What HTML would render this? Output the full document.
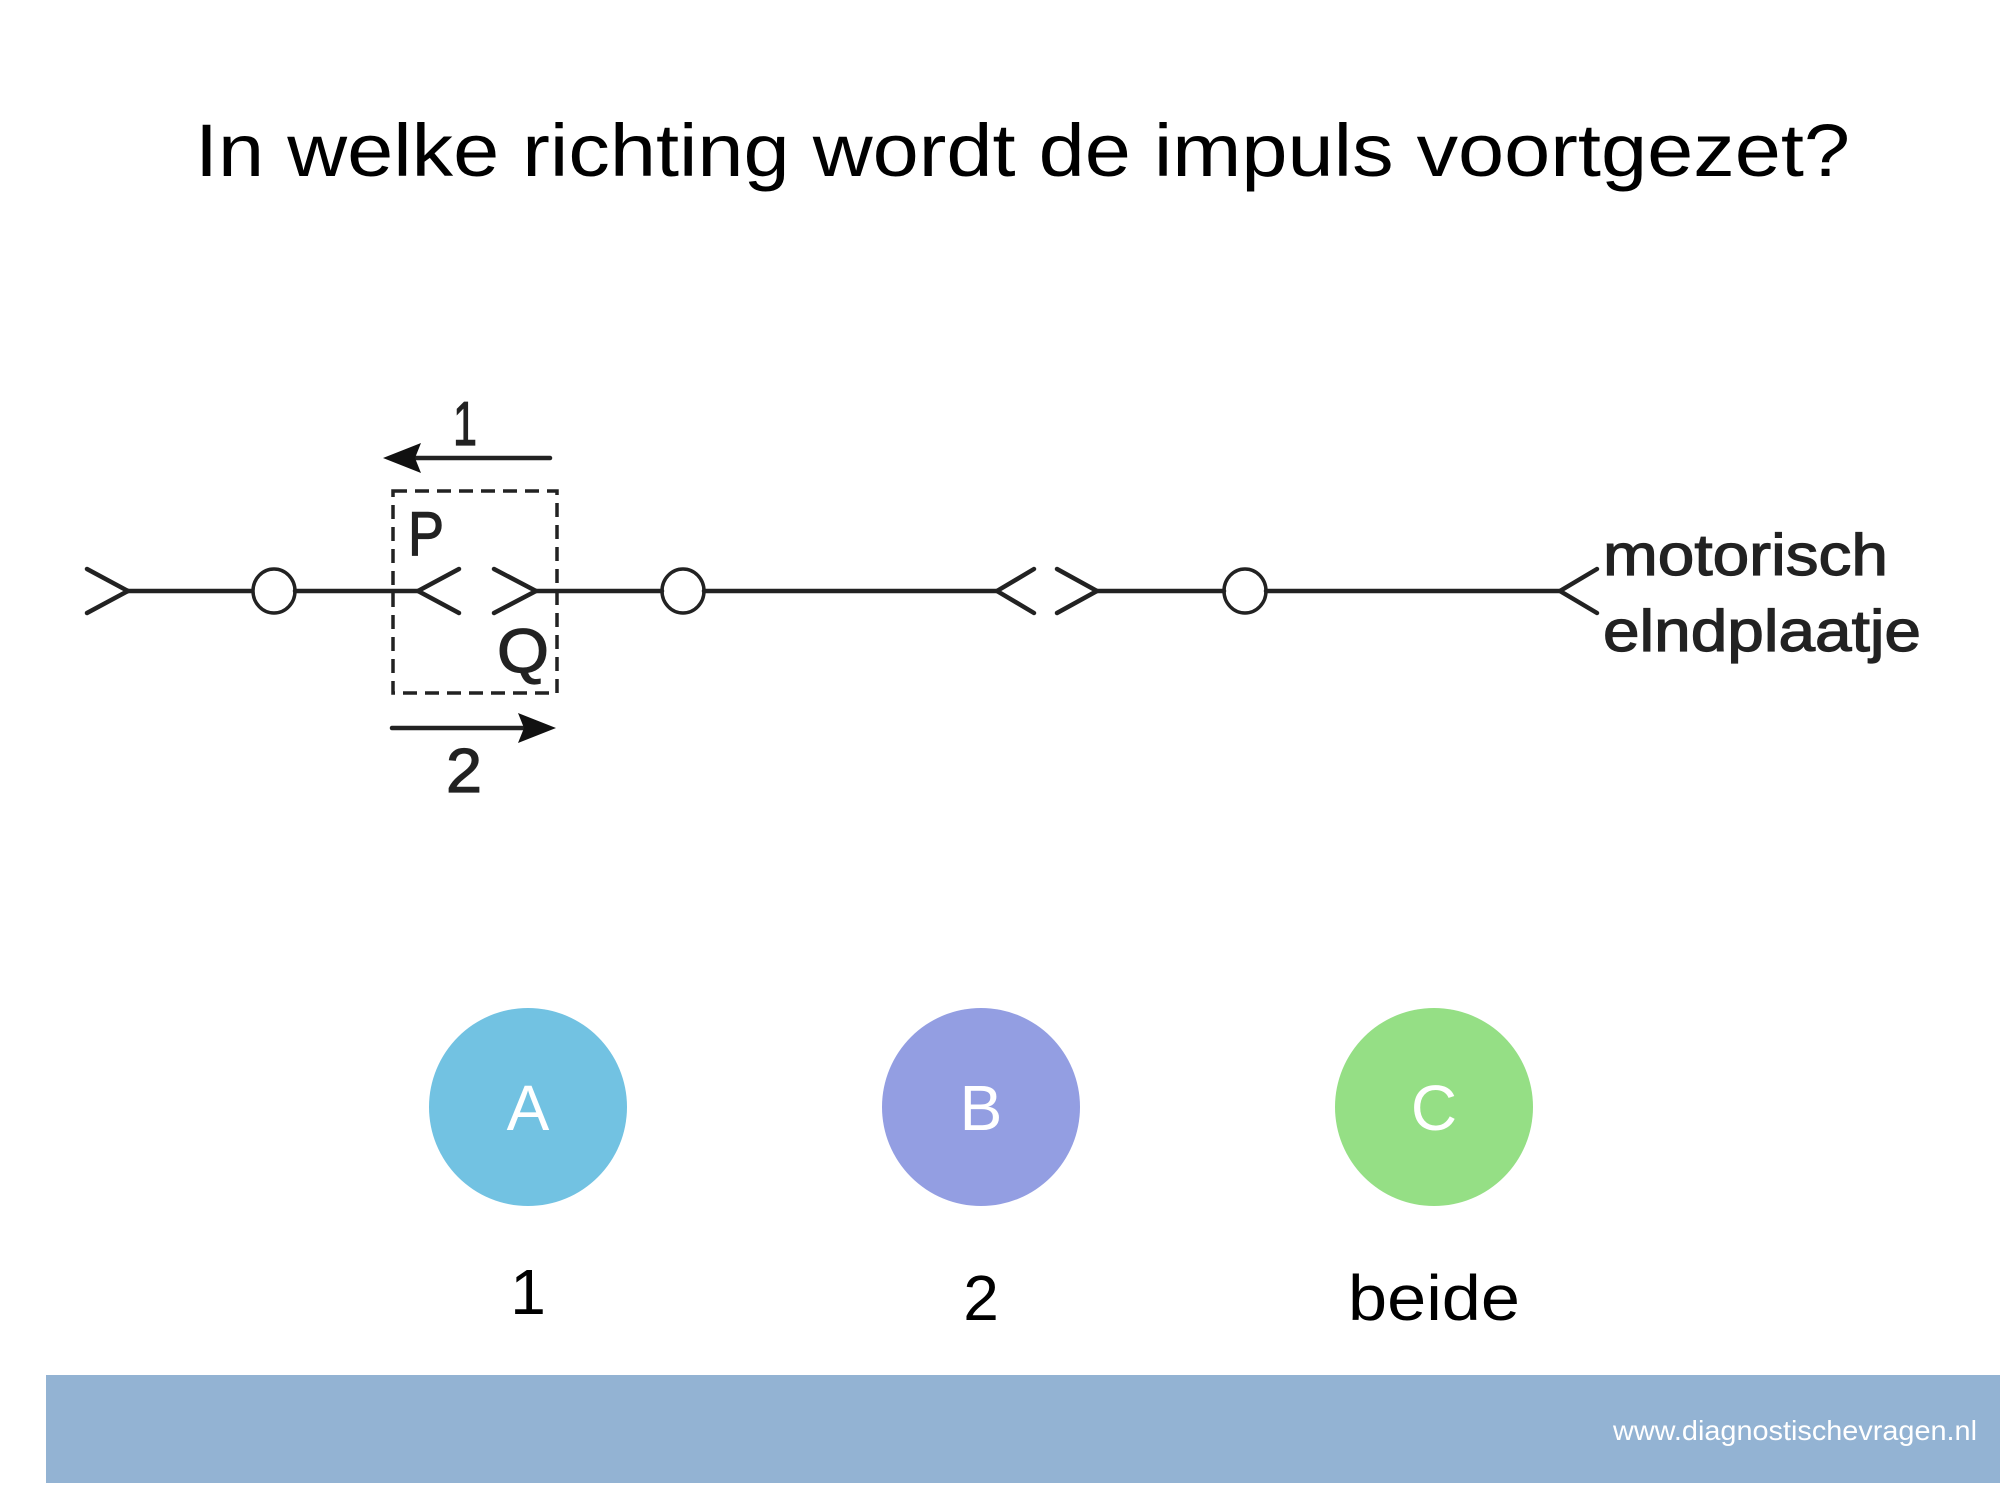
<!DOCTYPE html>
<html><head><meta charset="utf-8"><style>
html,body{margin:0;padding:0;background:#fff;}
svg{display:block;}
</style></head><body>
<svg width="2000" height="1500" viewBox="0 0 2000 1500" xmlns="http://www.w3.org/2000/svg" font-family="Liberation Sans, sans-serif">
<rect width="2000" height="1500" fill="#fff"/>
<text x="195" y="176" font-size="74" fill="#000" textLength="1655" lengthAdjust="spacingAndGlyphs">In welke richting wordt de impuls voortgezet?</text>
<g stroke="#222" stroke-width="4.5" fill="none" stroke-linecap="round">
<polyline points="87,569 128,591 87,613"/>
<line x1="128" y1="591" x2="252" y2="591"/>
<ellipse cx="274" cy="591" rx="21" ry="22" stroke-width="3.5"/>
<line x1="295" y1="591" x2="418" y2="591"/>
<polyline points="459,569 418,591 459,613"/>
<polyline points="494,569 536,591 494,613"/>
<line x1="536" y1="591" x2="662" y2="591"/>
<ellipse cx="683" cy="591" rx="21" ry="22" stroke-width="3.5"/>
<line x1="704" y1="591" x2="997" y2="591"/>
<polyline points="1034,569 997,591 1034,613"/>
<polyline points="1057,569 1097,591 1057,613"/>
<line x1="1097" y1="591" x2="1224" y2="591"/>
<ellipse cx="1245" cy="591" rx="21" ry="22" stroke-width="3.5"/>
<line x1="1266" y1="591" x2="1560" y2="591"/>
<polyline points="1597,569 1560,591 1597,613"/>
<rect x="393" y="491" width="164" height="202" stroke-dasharray="14,8" stroke-width="3.5" stroke-linecap="butt"/>
<line x1="415" y1="458" x2="550" y2="458" stroke-width="4.5"/>
<line x1="392" y1="728" x2="528" y2="728" stroke-width="4.5"/>
</g>
<polygon points="383,458 421,443 415,458 421,473" fill="#111"/>
<polygon points="556,728 518,713 524,728 518,743" fill="#111"/>
<g fill="#222" stroke="#222" stroke-width="1.2" font-size="62">
<text x="453" y="445" textLength="24" lengthAdjust="spacingAndGlyphs">1</text>
<text x="446" y="792" textLength="36" lengthAdjust="spacingAndGlyphs">2</text>
<text x="408" y="555" textLength="36" lengthAdjust="spacingAndGlyphs">P</text>
<text x="497" y="672" textLength="52" lengthAdjust="spacingAndGlyphs">Q</text>
<text x="1603" y="575" font-size="58" textLength="285" lengthAdjust="spacingAndGlyphs">motorisch</text>
<text x="1603" y="651" font-size="58" textLength="318" lengthAdjust="spacingAndGlyphs">elndplaatje</text>
</g>
<circle cx="528" cy="1107" r="99" fill="#72C2E2"/>
<circle cx="981" cy="1107" r="99" fill="#939EE2"/>
<circle cx="1434" cy="1107" r="99" fill="#95DF85"/>
<g fill="#fff" font-size="64" text-anchor="middle">
<text x="528" y="1130">A</text>
<text x="981" y="1130">B</text>
<text x="1434" y="1130">C</text>
</g>
<g fill="#000" font-size="64" text-anchor="middle">
<text x="528" y="1314">1</text>
<text x="981" y="1320">2</text>
<text x="1434" y="1320" textLength="172" lengthAdjust="spacingAndGlyphs">beide</text>
</g>
<rect x="46" y="1375" width="1954" height="108" fill="#93B3D3"/>
<text x="1613" y="1440" font-size="28" fill="#fff" textLength="364" lengthAdjust="spacingAndGlyphs">www.diagnostischevragen.nl</text>
</svg>
</body></html>
